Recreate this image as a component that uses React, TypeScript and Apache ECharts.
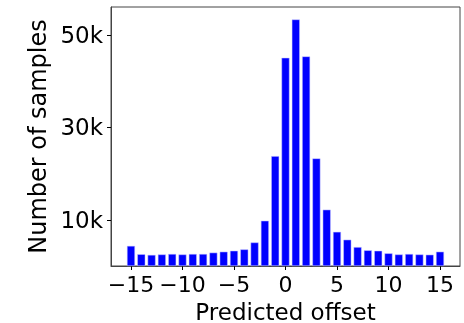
import React, { useEffect, useRef } from "react";
import * as echarts from "echarts";

const offsets = [-15, -14, -13, -12, -11, -10, -9, -8, -7, -6, -5, -4, -3, -2, -1, 0, 1, 2, 3, 4, 5, 6, 7, 8, 9, 10, 11, 12, 13, 14, 15];
const counts = [4350, 2550, 2400, 2500, 2600, 2500, 2600, 2600, 2900, 3100, 3300, 3600, 5100, 9800, 23800, 45100, 53400, 45400, 23300, 12200, 7400, 5700, 4100, 3400, 3300, 2750, 2500, 2600, 2500, 2450, 3100];
const xTicks = [-15, -10, -5, 0, 5, 10, 15];
const yTicks = [10000, 30000, 50000];

const FONT = "DejaVu Sans";

export default function App() {
  const ref = useRef<HTMLDivElement>(null);
  useEffect(() => {
    if (!ref.current) return;
    const chart = echarts.init(ref.current, undefined, { renderer: "svg" });
    chart.setOption({
      animation: false,
      grid: {
        left: 111,
        right: 4,
        top: 7,
        bottom: 57,
        show: true,
        containLabel: false,
        outerBoundsMode: "none",
        borderColor: "#444",
        borderWidth: 1,
        backgroundColor: "transparent",
      },
      xAxis: {
        type: "value",
        min: -16.94,
        max: 16.94,
        name: "Predicted offset",
        nameLocation: "middle",
        nameGap: 34,
        nameTextStyle: { fontFamily: FONT, fontSize: 23, color: "#000" },
        axisLine: { show: true, onZero: false, lineStyle: { color: "#444", width: 1 } },
        axisTick: { show: true, length: 4, inside: false, customValues: xTicks, lineStyle: { color: "#000" } },
        axisLabel: {
          customValues: xTicks,
          margin: 7,
          fontFamily: FONT,
          fontSize: 22,
          color: "#000",
          formatter: (v: number) => String(v).replace("-", "\u2212"),
        },
        splitLine: { show: false },
      },
      yAxis: {
        type: "value",
        min: 0,
        max: 56100,
        name: "Number of samples",
        nameLocation: "middle",
        nameRotate: 90,
        nameGap: 57,
        nameTextStyle: { fontFamily: FONT, fontSize: 24, color: "#000" },
        axisLine: { show: true, onZero: false, lineStyle: { color: "#444", width: 1 } },
        axisTick: { show: true, length: 4, inside: false, customValues: yTicks, lineStyle: { color: "#000" } },
        axisLabel: {
          customValues: yTicks,
          margin: 8,
          fontFamily: FONT,
          fontSize: 23,
          color: "#000",
          formatter: (v: number) => v / 1000 + "k",
        },
        splitLine: { show: false },
      },
      series: [
        {
          type: "bar",
          data: offsets.map((x, i) => [x, counts[i]]),
          barWidth: 8,
          itemStyle: { color: "#0000ff", borderColor: "#c8c8ff", borderWidth: 0.5 },
        },
      ],
    });
    return () => chart.dispose();
  }, []);
  return <div ref={ref} style={{ position: "fixed", left: 0, top: 0, width: 464, height: 323 }} />;
}
